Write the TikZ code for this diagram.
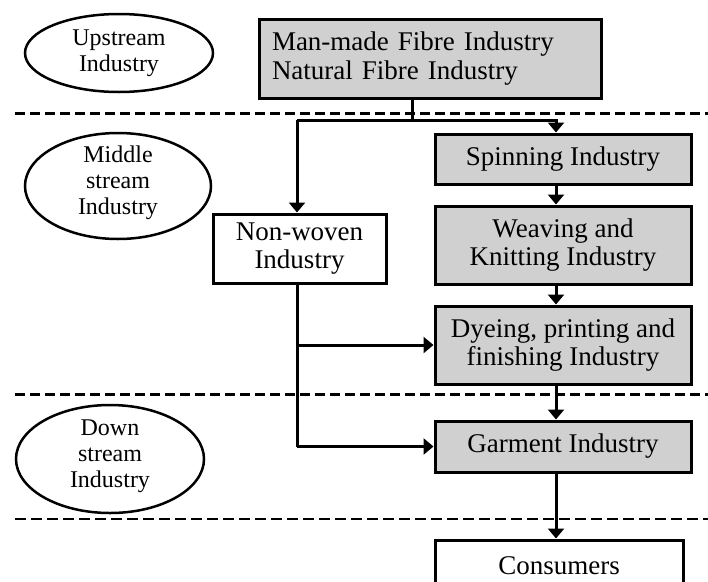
\documentclass[tikz,border=0pt]{standalone}
\usepackage{fontspec}
\setmainfont{Liberation Serif}
\usetikzlibrary{arrows.meta}
\definecolor{boxgray}{RGB}{208,208,208}
\begin{document}
\begin{tikzpicture}[x=1pt,y=-1pt,
  boxtext/.style={font=\fontsize{27}{28.5}\selectfont},
  ovaltext/.style={font=\fontsize{24}{26}\selectfont, align=center, inner sep=0pt},
  stage/.style={draw, line width=3pt, boxtext, align=center, inner sep=0pt},
  shaded/.style={stage, fill=boxgray},
  oval/.style={line width=2.5pt},
  flow/.style={line width=3pt, -{Triangle[width=16pt,length=10pt]}},
  link/.style={line width=3pt},
  tierline/.style={line width=3pt, dash pattern=on 10pt off 5pt},
  thintier/.style={line width=2pt, dash pattern=on 11pt off 5pt}]
\clip (0,0) rectangle (708,581);
\fill[white] (0,0) rectangle (708,581);

% tier separators
\draw[tierline] (15,113) -- (708,113);
\draw[tierline] (15,394) -- (708,394);
\draw[thintier] (15,519) -- (708,519);

% tier labels
\draw[oval] (119,53) ellipse [x radius=94, y radius=39];
\node[ovaltext] (up) at (119,53) {Upstream\\Industry};
\draw[oval] (118,186) ellipse [x radius=93, y radius=53];
\node[ovaltext] (mid) at (118,183) {Middle\\stream\\Industry};
\draw[oval] (110,459) ellipse [x radius=94, y radius=54];
\node[ovaltext] (down) at (110,456) {Down\\stream\\Industry};

% industry boxes
\node[shaded, minimum width=342, minimum height=79, text width=316,
      align=left] (fibre) at (430,58.5)
      {Man-made Fibre Industry\\Natural Fibre Industry};
\node[shaded, minimum width=256, minimum height=50] (spin) at (563,159)
      {Spinning Industry};
\node[shaded, minimum width=256, minimum height=78] (weave) at (563,245)
      {Weaving and\\Knitting Industry};
\node[shaded, minimum width=256, minimum height=78] (dye) at (563,345)
      {Dyeing, printing and\\finishing Industry};
\node[shaded, minimum width=256, minimum height=51] (garment) at (563,446.5)
      {Garment Industry};
\node[stage, minimum width=173, minimum height=69] (nonwoven) at (299.5,248.5)
      {Non-woven\\Industry};
\node[stage, minimum width=248, minimum height=52, fill=white] (consumer) at (559,566)
      {Consumers};

% routing points
\coordinate (jn) at (412,120);
\coordinate (jl) at (297,120);
\coordinate (jr) at (556,120);

% connectors
\draw[link] (fibre.south -| jn) -- (jn);
\draw[flow] (jl) -- (jr) -- (spin.north -| jr);
\draw[flow] (jl) -- (nonwoven.north -| jl);
\draw[flow] (spin.south -| jr) -- (weave.north -| jr);
\draw[flow] (weave.south -| jr) -- (dye.north -| jr);
\draw[flow] (dye.south -| jr) -- (garment.north -| jr);
\draw[flow] (garment.south -| jr) -- (consumer.north -| jr);
\draw[link] (nonwoven.south -| jl) -- (jl |- garment.west);
\draw[flow] (jl |- garment.west) -- (garment.west);
\draw[flow] (jl |- dye.west) -- (dye.west);
\end{tikzpicture}
\end{document}
